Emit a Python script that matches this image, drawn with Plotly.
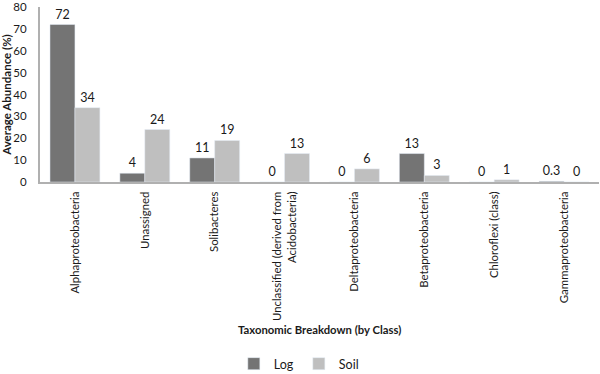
import plotly.graph_objects as go

categories = ["Alphaproteobacteria", "Unassigned", "Solibacteres",
              "Unclassified (derived from<br>Acidobacteria)", "Deltaproteobacteria",
              "Betaproteobacteria", "Chloroflexi (class)", "Gammaproteobacteria"]
log_values = [72, 4, 11, 0, 0, 13, 0, 0.3]
soil_values = [34, 24, 19, 13, 6, 3, 1, 0]
log_labels = ["72", "4", "11", "0", "0", "13", "0", "0.3"]
soil_labels = ["34", "24", "19", "13", "6", "3", "1", "0"]
y_ticks = [0, 10, 20, 30, 40, 50, 60, 70, 80]

FONT = "Lato, Open Sans, Liberation Sans, Arial, sans-serif"
TXT = dict(size=12.5, color="#1a1a1a", family=FONT)

fig = go.Figure()
fig.add_trace(go.Bar(x=categories, y=log_values, name="Log", marker_color="#747474",
                     text=log_labels, textposition="outside", cliponaxis=False,
                     textfont=TXT, outsidetextfont=TXT))
fig.add_trace(go.Bar(x=categories, y=soil_values, name="Soil", marker_color="#bfbfbf",
                     text=soil_labels, textposition="outside", cliponaxis=False,
                     textfont=TXT, outsidetextfont=TXT))

fig.update_layout(
    width=600, height=374,
    margin=dict(l=40, r=1, t=7, b=192, autoexpand=False),
    paper_bgcolor="white", plot_bgcolor="white",
    barmode="group", bargap=0.286, bargroupgap=0,
    font=dict(family=FONT, size=12, color="#1a1a1a"),
    showlegend=True,
    legend=dict(orientation="h", x=0.463, xanchor="center", y=-1.04, yanchor="middle",
                font=dict(size=12.5), itemwidth=30, traceorder="normal"),
    annotations=[dict(text="<b>Taxonomic Breakdown (by Class)</b>", xref="paper", yref="paper",
                      x=0.5, y=-0.84, xanchor="center", yanchor="middle", showarrow=False,
                      font=dict(size=11.3))],
)
fig.update_xaxes(showline=True, linecolor="#b0b0b0", linewidth=2, tickangle=-90,
                 ticks="", showgrid=False, tickfont=dict(size=11.4), automargin=False,
                 ticklabelstandoff=3)
fig.update_yaxes(range=[0, 80], tickvals=y_ticks, showline=True, linecolor="#b0b0b0",
                 linewidth=2, showgrid=False, ticks="", zeroline=False, automargin=False,
                 ticklabeloverflow="allow", ticklabelstandoff=9,
                 title=dict(text="<b>Average Abundance (%)</b>", font=dict(size=11.5), standoff=3),
                 tickfont=dict(size=11.5))

fig.write_html("out.html", config={"displayModeBar": False},
               post_script="document.body.style.margin='0';document.body.style.overflow='hidden';")
